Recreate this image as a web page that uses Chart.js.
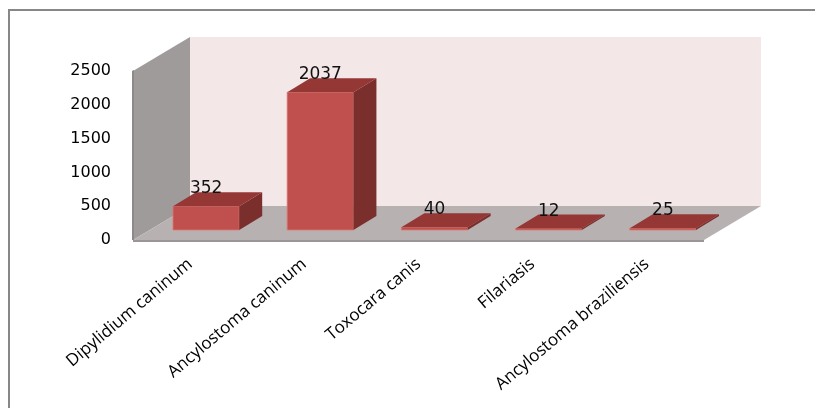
<!DOCTYPE html>
<html>
<head>
<meta charset="utf-8">
<script src="https://cdn.jsdelivr.net/npm/chart.js@4/dist/chart.umd.min.js"></script>
<style>
  html, body { margin: 0; padding: 0; background: #fff; }
  canvas { display: block; }
</style>
</head>
<body>
<canvas id="chart" width="815" height="408"></canvas>
<script>
// ===== DATA =====
const categories = ["Dipylidium caninum", "Ancylostoma caninum", "Toxocara canis", "Filariasis", "Ancylostoma braziliensis"];
const counts = [352, 2037, 40, 12, 25];
const yTicks = [0, 500, 1000, 1500, 2000, 2500];

// ===== 3D LOOK =====
const FLOOR_DX = 57, FLOOR_DY = -34;     // depth of walls/floor
const BAR_OFF_DX = 16, BAR_OFF_DY = -10; // bars sit a bit back from the front edge
const BAR_DX = 23, BAR_DY = -14;         // depth of one bar

function poly(ctx, pts, fill, stroke) {
    ctx.beginPath();
    ctx.moveTo(pts[0][0], pts[0][1]);
    for (let i = 1; i < pts.length; i++) ctx.lineTo(pts[i][0], pts[i][1]);
    ctx.closePath();
    ctx.fillStyle = fill;
    ctx.fill();
    if (stroke) {
        ctx.strokeStyle = stroke;
        ctx.lineWidth = 1;
        ctx.stroke();
    }
}

const frame3d = {
    id: 'frame3d',
    beforeDraw(chart) {
        const ctx = chart.ctx;
        // outer border of the chart box
        ctx.save();
        ctx.strokeStyle = '#878787';
        ctx.lineWidth = 2;
        ctx.beginPath();
        ctx.moveTo(9, 408);
        ctx.lineTo(9, 10);
        ctx.lineTo(815, 10);
        ctx.stroke();
        ctx.restore();
    },
    beforeDatasetsDraw(chart) {
        const ctx = chart.ctx;
        const a = chart.chartArea;
        const L = a.left, R = a.right, T = a.top, B = a.bottom;
        ctx.save();
        // back wall
        poly(ctx, [[L + FLOOR_DX, T + FLOOR_DY], [R + FLOOR_DX, T + FLOOR_DY], [R + FLOOR_DX, B + FLOOR_DY], [L + FLOOR_DX, B + FLOOR_DY]], '#F4E7E7');
        // left wall
        poly(ctx, [[L, T], [L + FLOOR_DX, T + FLOOR_DY], [L + FLOOR_DX, B + FLOOR_DY], [L, B]], '#A09B9B');
        // floor
        poly(ctx, [[L, B], [L + FLOOR_DX, B + FLOOR_DY], [R + FLOOR_DX, B + FLOOR_DY], [R, B]], '#B8B1B1');
        // floor front edge
        poly(ctx, [[L, B], [R, B], [R, B + 2], [L, B + 2]], '#9C9595');
        // left wall front edge
        poly(ctx, [[L - 1, T], [L + 1, T - 1], [L + 1, B], [L - 1, B]], '#8E8888');
        ctx.restore();
    },
    afterDatasetsDraw(chart) {
        const ctx = chart.ctx;
        const meta = chart.getDatasetMeta(0);
        ctx.save();
        meta.data.forEach((bar, i) => {
            const w = bar.width;
            const x0 = bar.x - w / 2 + BAR_OFF_DX;
            const x1 = bar.x + w / 2 + BAR_OFF_DX;
            const yb = bar.base + BAR_OFF_DY;
            const yt = Math.min(bar.y + BAR_OFF_DY, yb - 1.5);
            // front
            poly(ctx, [[x0, yt], [x1, yt], [x1, yb], [x0, yb]], '#C0504D', 'rgba(220,120,115,0.8)');
            // top
            poly(ctx, [[x0, yt], [x0 + BAR_DX, yt + BAR_DY], [x1 + BAR_DX, yt + BAR_DY], [x1, yt]], '#943735');
            // right side
            poly(ctx, [[x1, yt], [x1 + BAR_DX, yt + BAR_DY], [x1 + BAR_DX, yb + BAR_DY], [x1, yb]], '#7B2F2D');

            // value label
            ctx.fillStyle = '#111';
            ctx.font = '17px "DejaVu Sans"';
            ctx.textAlign = 'center';
            ctx.textBaseline = 'alphabetic';
            ctx.fillText(String(counts[i]), bar.x + BAR_OFF_DX, yt + BAR_DY + 1);
        });
        ctx.restore();
    }
};

// ===== CHART =====
const chart = new Chart(document.getElementById('chart'), {
    type: 'bar',
    data: {
        labels: categories,
        datasets: [{
            data: counts,
            backgroundColor: 'rgba(0,0,0,0)',
            borderWidth: 0,
            categoryPercentage: 1,
            barPercentage: 0.58
        }]
    },
    options: {
        responsive: false,
        animation: false,
        layout: { padding: { left: 0, top: 71, right: 111, bottom: 0 } },
        plugins: {
            legend: { display: false },
            tooltip: { enabled: false }
        },
        scales: {
            x: {
                grid: { display: false, drawTicks: false },
                border: { display: false },
                ticks: {
                    color: '#000',
                    font: { family: '"Open Sans"', size: 17 },
                    minRotation: 40,
                    maxRotation: 40,
                    padding: 14,
                    autoSkip: false
                },
                afterFit(s) { s.height = 168; }
            },
            y: {
                min: 0,
                max: 2500,
                grid: { display: false, drawTicks: false },
                border: { display: false },
                afterBuildTicks(s) { s.ticks = yTicks.map(v => ({ value: v })); },
                ticks: {
                    color: '#000',
                    font: { family: '"DejaVu Sans"', size: 16 },
                    padding: 22,
                    callback: v => String(v)
                },
                afterFit(s) { s.width = 133; }
            }
        }
    },
    plugins: [frame3d]
});
</script>
</body>
</html>
